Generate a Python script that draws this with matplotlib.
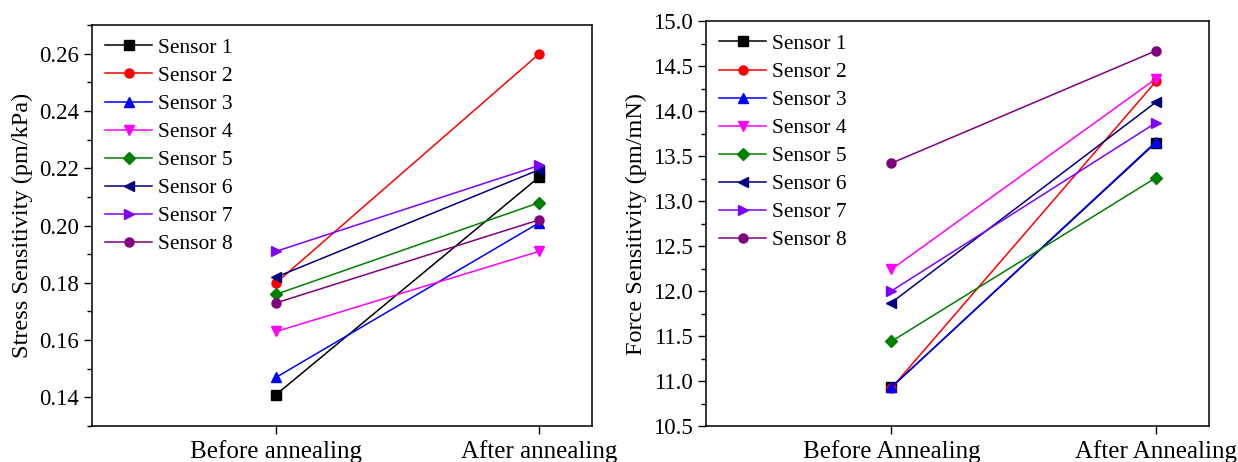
import numpy as np
import matplotlib
matplotlib.use('Agg')
from matplotlib import pyplot as plt
from matplotlib.ticker import MultipleLocator

plt.rcParams['font.family'] = ['Liberation Serif', 'DejaVu Serif']

sensors = ['Sensor 1', 'Sensor 2', 'Sensor 3', 'Sensor 4',
           'Sensor 5', 'Sensor 6', 'Sensor 7', 'Sensor 8']
colors = ['#000000', '#FF0000', '#0000FF', '#FF00FF',
          '#008000', '#000080', '#8000FF', '#800080']
markers = ['s', 'o', '^', 'v', 'D', '<', '>', 'o']

stress_before = [0.141, 0.180, 0.147, 0.163, 0.176, 0.182, 0.191, 0.173]
stress_after = [0.217, 0.260, 0.201, 0.191, 0.208, 0.2195, 0.221, 0.202]

force_before = [10.93, 10.92, 10.93, 12.24, 11.44, 11.87, 12.00, 13.42]
force_after = [13.65, 14.33, 13.66, 14.36, 13.26, 14.10, 13.87, 14.67]

left_labels = ['Before annealing', 'After annealing']
right_labels = ['Before Annealing', 'After Annealing']

fig = plt.figure(figsize=(12.38, 4.62), dpi=100)
ax1 = fig.add_axes([0.0743, 0.0779, 0.4039, 0.868])
ax2 = fig.add_axes([0.5703, 0.0779, 0.4063, 0.8766])

x = [1, 2]


def draw(ax, before, after, labels, ylabel):
    for i in range(len(sensors)):
        ms = 7.5 if markers[i] in ('^', 'v', '<', '>') else 6.5
        if markers[i] == 'D':
            ms = 6
        ax.plot(x, [before[i], after[i]], color=colors[i], marker=markers[i],
                markersize=ms, linewidth=1.1, label=sensors[i])
    ax.set_xlim(0.3, 2.2)
    ax.set_xticks(x)
    ax.set_xticklabels(labels, fontsize=18)
    ax.set_ylabel(ylabel, fontsize=17.5, labelpad=4)
    for s in ax.spines.values():
        s.set_linewidth(1.1)
    ax.tick_params(axis='both', which='major', direction='out', length=6,
                   width=1.0, labelsize=16.5, top=False, right=False)
    ax.tick_params(axis='y', which='minor', direction='out', length=3.5, width=1.0)
    ax.tick_params(axis='x', pad=4, labelsize=18)
    ax.legend(loc='upper left', frameon=False, fontsize=15.5, handlelength=2.2,
              labelspacing=0.37, borderaxespad=0.15, handletextpad=0.25,
              borderpad=0.45)


draw(ax1, stress_before, stress_after, left_labels, 'Stress Sensitivity (pm/kPa)')
ax1.set_ylim(0.13, 0.27)
ax1.yaxis.set_major_locator(MultipleLocator(0.02))
ax1.yaxis.set_minor_locator(MultipleLocator(0.01))
ax1.yaxis.set_major_formatter(matplotlib.ticker.FormatStrFormatter('%.2f'))

draw(ax2, force_before, force_after, right_labels, 'Force Sensitivity (pm/mN)')
ax2.set_ylim(10.5, 15.0)
ax2.yaxis.set_major_locator(MultipleLocator(0.5))
ax2.yaxis.set_minor_locator(MultipleLocator(0.25))
ax2.yaxis.set_major_formatter(matplotlib.ticker.FormatStrFormatter('%.1f'))

fig.savefig('out.png', dpi=100)
